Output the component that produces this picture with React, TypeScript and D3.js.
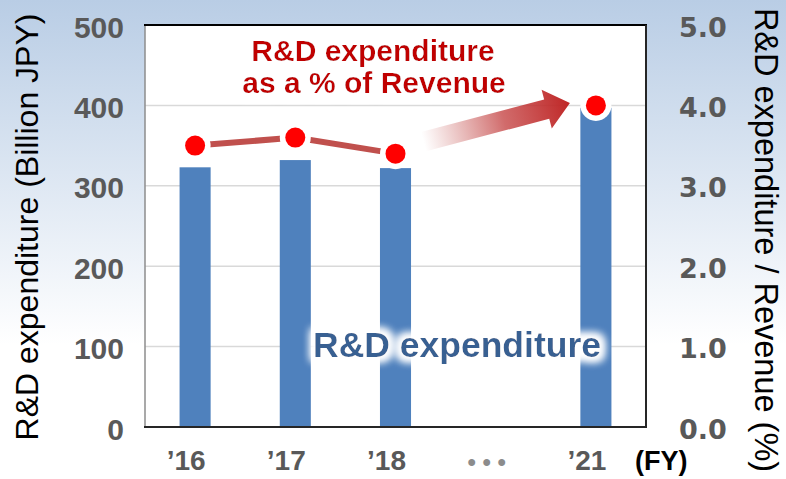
import React from "react";
import * as d3 from "d3";

const categories = ["\u201916", "\u201917", "\u201918", "\u2022 \u2022 \u2022", "\u201921"];
const rdExpenditure: (number | null)[] = [323, 332, 322, null, 397];
const rdRatio: (number | null)[] = [3.5, 3.6, 3.4, null, 4.0];
const leftTicks = [0, 100, 200, 300, 400, 500];
const rightTicks = [0, 1, 2, 3, 4, 5];

const W = 786;
const H = 479;
const PL = 145, PR = 646, PT = 25, PB = 427;
const FONT = "'Liberation Sans', Arial, sans-serif";

export default function App() {
  const x = d3.scaleBand<string>().domain(categories).range([PL, PR]).paddingInner(0.69).paddingOuter(0.345);
  const yL = d3.scaleLinear().domain([0, 500]).range([PB, PT]);
  const yR = d3.scaleLinear().domain([0, 5]).range([PB, PT]);
  const cx = (i: number) => (x(categories[i]) as number) + x.bandwidth() / 2;

  const linePts = rdRatio
    .map((v, i) => ({ v, i }))
    .filter((d) => d.v !== null && d.i < 3) as { v: number; i: number }[];
  const lineGen = d3.line<{ v: number; i: number }>().x((d) => cx(d.i)).y((d) => yR(d.v));

  // Arrow annotation from '18 marker toward '21 marker
  const sx = cx(2) + 28, sy = yR(3.55);
  const ex = cx(4) - 26, ey = yR(4.03);
  const ang = Math.atan2(ey - sy, ex - sx) * 180 / Math.PI;
  const L = Math.hypot(ex - sx, ey - sy);
  const headL = 24, shaftHW = 10, headHW = 20;
  const arrowPath = `M0,${-shaftHW} L${L - headL},${-shaftHW} L${L - headL},${-headHW} L${L},0 L${L - headL},${headHW} L${L - headL},${shaftHW} L0,${shaftHW} Z`;

  return (
    <svg width={W} height={H} style={{ position: "absolute", left: 0, top: 0 }} fontFamily={FONT}>
      <defs>
        <linearGradient id="bg" x1="0" y1="0" x2="0" y2="1">
          <stop offset="0" stopColor="#b9cde5" />
          <stop offset="0.72" stopColor="#ffffff" />
        </linearGradient>
        <linearGradient id="arrowGrad" gradientUnits="userSpaceOnUse" x1={0} y1={0} x2={L} y2={0}>
          <stop offset="0" stopColor="#c0504d" stopOpacity={0} />
          <stop offset="0.55" stopColor="#c23a3a" stopOpacity={0.75} />
          <stop offset="1" stopColor="#bf2626" stopOpacity={1} />
        </linearGradient>
        <filter id="glow" x="-20%" y="-50%" width="140%" height="200%">
          <feMorphology in="SourceAlpha" operator="dilate" radius="4" result="d" />
          <feGaussianBlur in="d" stdDeviation="4" result="b" />
          <feFlood floodColor="#ffffff" />
          <feComposite in2="b" operator="in" result="g" />
          <feMerge>
            <feMergeNode in="g" />
            <feMergeNode in="g" />
            <feMergeNode in="SourceGraphic" />
          </feMerge>
        </filter>
      </defs>
      <rect x={0} y={0} width={W} height={H} fill="url(#bg)" />
      <rect x={PL} y={PT} width={PR - PL} height={PB - PT} fill="#ffffff" />
      {leftTicks.filter((t) => t > 0 && t < 500).map((t) => (
        <line key={t} x1={PL} x2={PR} y1={yL(t)} y2={yL(t)} stroke="#d9d9d9" strokeWidth={1.5} />
      ))}
      {/* bars */}
      {rdExpenditure.map((v, i) =>
        v === null ? null : (
          <rect key={i} x={x(categories[i])} y={yL(v)} width={x.bandwidth()} height={PB - yL(v)} fill="#4f81bd" />
        )
      )}
      {/* plot border */}
      <line x1={PL} x2={PL} y1={PT} y2={PB} stroke="#8c8c8c" strokeWidth={1.5} />
      <line x1={PL - 1} x2={PR + 1} y1={PT} y2={PT} stroke="#000" strokeWidth={2} />
      <line x1={PR} x2={PR} y1={PT} y2={PB} stroke="#262626" strokeWidth={2} />
      <line x1={PL - 1} x2={PR + 1} y1={PB} y2={PB} stroke="#262626" strokeWidth={2} />

      {/* R&D expenditure label */}
      <text x={457} y={357} textAnchor="middle" fontSize={35.5} fontWeight="bold" fill="#376092" filter="url(#glow)">
        R&amp;D expenditure
      </text>

      {/* ratio line */}
      <path d={lineGen(linePts) || ""} fill="none" stroke="#c0504d" strokeWidth={6} />
      {rdRatio.map((v, i) =>
        v === null ? null : <circle key={"w" + i} cx={cx(i)} cy={yR(v)} r={15.5} fill="#ffffff" />
      )}
      {rdRatio.map((v, i) =>
        v === null ? null : <circle key={"r" + i} cx={cx(i)} cy={yR(v)} r={10} fill="#ff0000" />
      )}

      {/* arrow */}
      <g transform={`translate(${sx},${sy}) rotate(${ang})`}>
        <path d={arrowPath} fill="url(#arrowGrad)" />
      </g>

      {/* red annotation */}
      <g filter="url(#glow)" fontSize={30} fontWeight="bold" fill="#c00000" textAnchor="middle">
        <text x={373} y={61}>R&amp;D expenditure</text>
        <text x={374} y={93}>as a % of Revenue</text>
      </g>

      {/* left axis ticks */}
      {leftTicks.map((t) => (
        <text key={t} x={124} y={yL(t) + 12.5} textAnchor="end" fontSize={30} fontWeight="bold" fill="#595959">
          {t}
        </text>
      ))}
      {/* right axis ticks */}
      {rightTicks.map((t) => (
        <text key={t} x={679} y={yR(t) + 11.5} textAnchor="start" fontSize={27} fontWeight="bold" fill="#595959"
          fontFamily="'DejaVu Sans', Verdana, sans-serif">
          {t.toFixed(1)}
        </text>
      ))}
      {/* x labels */}
      {categories.map((c, i) => (
        <text key={c} x={cx(i) - 9} y={470} textAnchor="middle"
          fontSize={i === 3 ? 24 : 28} fontWeight="bold" fill={i === 3 ? "#8c8c8c" : "#595959"}>
          {c}
        </text>
      ))}
      <text x={635} y={470} fontSize={27} fontWeight="bold" fill="#000">(FY)</text>

      {/* axis titles */}
      <text transform={`translate(38,227) rotate(-90)`} textAnchor="middle" fontSize={32} fill="#000">
        R&amp;D expenditure (Billion JPY)
      </text>
      <text transform={`translate(755,240) rotate(90)`} textAnchor="middle" fontSize={32.5} fill="#000">
        R&amp;D expenditure / Revenue (%)
      </text>
    </svg>
  );
}
